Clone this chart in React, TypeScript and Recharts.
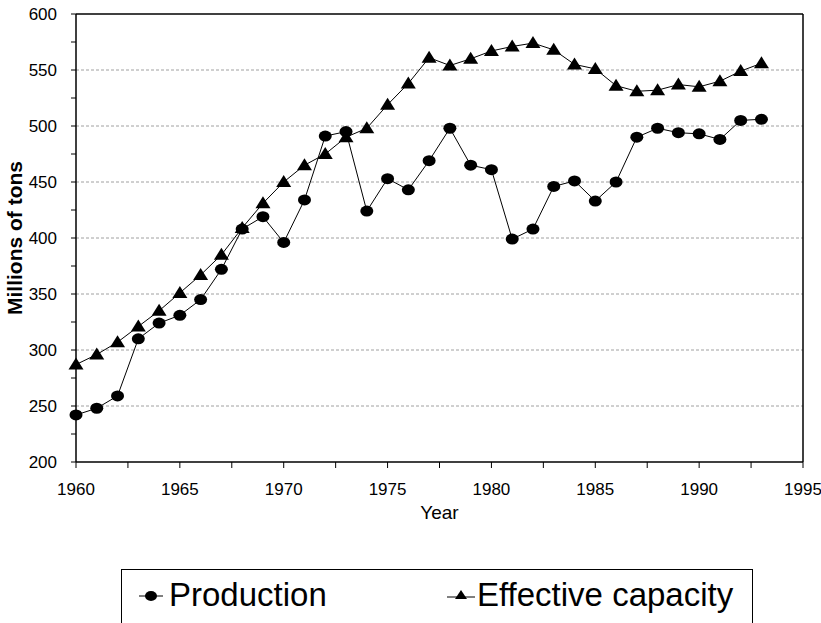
import { LineChart, Line, XAxis, YAxis, CartesianGrid, ReferenceLine, Legend } from 'recharts';

const years = [
  1960, 1961, 1962, 1963, 1964, 1965, 1966, 1967, 1968, 1969, 1970, 1971, 1972, 1973, 1974, 1975, 1976,
  1977, 1978, 1979, 1980, 1981, 1982, 1983, 1984, 1985, 1986, 1987, 1988, 1989, 1990, 1991, 1992, 1993,
];

const production = [
  242, 248, 259, 310, 324, 331, 345, 372, 408, 419, 396, 434, 491, 495, 424, 453, 443,
  469, 498, 465, 461, 399, 408, 446, 451, 433, 450, 490, 498, 494, 493, 488, 505, 506,
];

const capacity = [
  287, 296, 307, 321, 335, 351, 367, 385, 409, 431, 450, 465, 475, 490, 498, 519, 538,
  561, 554, 560, 567, 571, 574, 568, 555, 551, 536, 531, 532, 537, 535, 540, 549, 556,
];

const xTicks = [1960, 1962.5, 1965, 1967.5, 1970, 1972.5, 1975, 1977.5, 1980, 1982.5, 1985, 1987.5, 1990, 1992.5, 1995];
const yTicks = [200, 225, 250, 275, 300, 325, 350, 375, 400, 425, 450, 475, 500, 525, 550, 575, 600];
const gridValues = [250, 300, 350, 400, 450, 500, 550];

const data = years.map((year, i) => ({ year, production: production[i], capacity: capacity[i] }));

const font = '"Liberation Sans", Arial, sans-serif';

const CircleDot = (props: any) => {
  const { cx, cy } = props;
  if (cx == null || cy == null) return null;
  return <ellipse key={`c-${cx}`} cx={cx} cy={cy} rx={6.5} ry={5.5} fill="#000" />;
};

const TriangleDot = (props: any) => {
  const { cx, cy } = props;
  if (cx == null || cy == null) return null;
  return (
    <path
      key={`t-${cx}`}
      d={`M${cx},${cy - 7} L${cx + 7.5},${cy + 5} L${cx - 7.5},${cy + 5} Z`}
      fill="#000"
    />
  );
};

const LegendBox = () => (
  <div
    style={{
      boxSizing: 'border-box',
      width: 632,
      height: 54,
      border: '1.5px solid #000',
      borderBottom: 'none',
      background: '#fff',
      position: 'relative',
      fontFamily: font,
      fontSize: 33,
      color: '#000',
    }}
  >
    <svg width={30} height={20} style={{ position: 'absolute', left: 16, top: 16 }}>
      <line x1={1} y1={10} x2={25} y2={10} stroke="#000" strokeWidth={1} />
      <ellipse cx={13} cy={10} rx={6} ry={5} fill="#000" />
    </svg>
    <span style={{ position: 'absolute', left: 47, top: 6, lineHeight: '38px' }}>Production</span>
    <svg width={32} height={20} style={{ position: 'absolute', left: 324, top: 16 }}>
      <line x1={1} y1={11} x2={29} y2={11} stroke="#000" strokeWidth={1} />
      <path d="M15,4 L21,13 L9,13 Z" fill="#000" />
    </svg>
    <span style={{ position: 'absolute', left: 355, top: 6, lineHeight: '38px' }}>Effective capacity</span>
  </div>
);

export default function App() {
  return (
    <div style={{ position: 'absolute', left: 0, top: 0, width: 821, height: 623, background: '#fff' }}>
      <LineChart width={821} height={623} data={data} margin={{ top: 14, right: 18, left: 0, bottom: 0 }}>
        <CartesianGrid
          vertical={false}
          horizontalValues={gridValues}
          stroke="#a0a0a0"
          strokeDasharray="3 2"
        />
        <XAxis
          dataKey="year"
          type="number"
          domain={[1960, 1995]}
          ticks={xTicks}
          interval={0}
          height={161}
          axisLine={{ stroke: '#000', strokeWidth: 1.5 }}
          tickLine={{ stroke: '#000' }}
          tickSize={6}
          tickMargin={15}
          tickFormatter={(v) => (v % 5 === 0 ? String(v) : '')}
          tick={{ fontSize: 17, fill: '#000', fontFamily: font }}
          label={{ value: 'Year', position: 'insideTop', offset: 44, style: { fontSize: 19, fill: '#000', fontFamily: font } }}
        />
        <YAxis
          type="number"
          domain={[200, 600]}
          ticks={yTicks}
          interval={0}
          width={76}
          axisLine={{ stroke: '#000', strokeWidth: 1.5 }}
          tickLine={{ stroke: '#000' }}
          tickSize={5}
          tickMargin={14}
          tickFormatter={(v) => (v % 50 === 0 ? String(v) : '')}
          tick={{ fontSize: 17, fill: '#000', fontFamily: font }}
          label={{
            value: 'Millions of tons',
            angle: -90,
            position: 'insideLeft',
            offset: 15,
            style: { textAnchor: 'middle', fontSize: 21, fontWeight: 'bold', fill: '#000', fontFamily: font },
          }}
        />
        <ReferenceLine y={600} stroke="#000" strokeWidth={1.5} />
        <ReferenceLine x={1995} stroke="#000" strokeWidth={1.5} />
        <Line
          dataKey="production"
          name="Production"
          stroke="#000"
          strokeWidth={1}
          dot={CircleDot}
          activeDot={false}
          isAnimationActive={false}
        />
        <Line
          dataKey="capacity"
          name="Effective capacity"
          stroke="#000"
          strokeWidth={1}
          dot={TriangleDot}
          activeDot={false}
          isAnimationActive={false}
        />
        <Legend
          layout="horizontal"
          verticalAlign="middle"
          align="center"
          content={LegendBox}
          wrapperStyle={{ left: 121, top: 569, width: 632, height: 54 }}
        />
      </LineChart>
    </div>
  );
}
